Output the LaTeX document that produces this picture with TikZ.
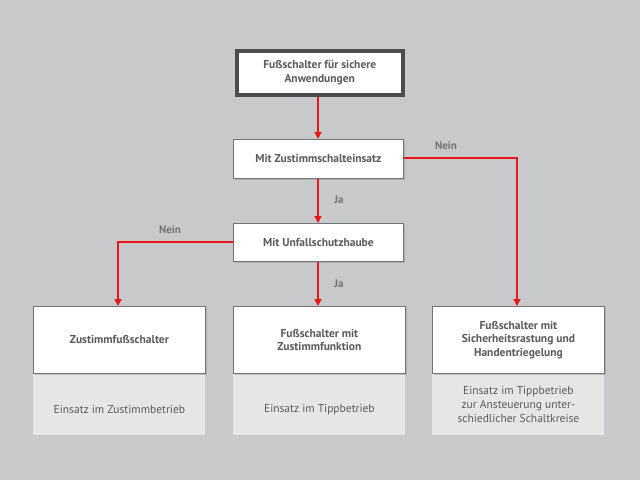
\documentclass[tikz,border=0pt]{standalone}
\usepackage{fontspec}
\setmainfont{PT Sans}
\usetikzlibrary{shadows,arrows.meta}
\definecolor{bg}{HTML}{C8C9CB}
\definecolor{txt}{HTML}{5A5A5C}
\definecolor{lowbg}{HTML}{E6E6E7}
\definecolor{rl}{HTML}{E8161B}
\begin{document}
\begin{tikzpicture}[x=1pt,y=-1pt,
  box/.style={draw=black!55,line width=0.8pt,fill=white,drop shadow={shadow xshift=1.5pt,shadow yshift=-2pt,opacity=0.35},align=center,text=txt,font=\fontsize{11.5}{13.5}\selectfont\bfseries,anchor=north west,inner sep=0pt},
  low/.style={fill=lowbg,align=center,text=txt,font=\fontsize{11.5}{14}\selectfont,anchor=north west,inner sep=0pt},
  arr/.style={draw=rl,line width=1.4pt,-{Triangle[length=7pt,width=7pt]}},
  lab/.style={text=txt!85,font=\fontsize{11}{12}\selectfont\bfseries}]
\fill[bg] (0,0) rectangle (640,480);
\useasboundingbox (0,0) rectangle (640,480);
\node[box,draw=black!70,line width=3.5pt,minimum width=166pt,minimum height=44pt] (t) at (235,49) {Fußschalter für sichere\\Anwendungen};
\node[box,minimum width=170pt,minimum height=39pt] (z) at (233,139) {Mit Zustimmschalteinsatz};
\node[box,minimum width=170pt,minimum height=38pt] (u) at (233,223) {Mit Unfallschutzhaube};
\node[low,minimum width=172pt,minimum height=129pt] (l1) at (33,306) {};
\node[low,minimum width=172pt,minimum height=129pt] (l2) at (233,306) {};
\node[low,minimum width=172pt,minimum height=129pt] (l3) at (432,306) {};
\node[box,minimum width=172pt,minimum height=67pt] (a) at (33,306) {Zustimmfußschalter};
\node[box,minimum width=172pt,minimum height=67pt] (b) at (233,306) {Fußschalter mit\\Zustimmfunktion};
\node[box,minimum width=172pt,minimum height=67pt] (c) at (432,306) {Fußschalter mit\\Sicherheitsrastung und\\Handentriegelung};
\node[low,anchor=center] (ta) at ([yshift=-36pt]a.south) {Einsatz im Zustimmbetrieb};
\node[low,anchor=center] (tb) at ([yshift=-36pt]b.south) {Einsatz im Tippbetrieb};
\node[low,anchor=center] (tc) at ([yshift=-31pt]c.south) {Einsatz im Tippbetrieb\\zur Ansteuerung unter-\\schiedlicher Schaltkreise};
\draw[arr] (t.south -| 318,0) -- (z.north -| 318,0);
\draw[arr] (z.south -| 318,0) -- (u.north -| 318,0);
\draw[arr] (u.south -| 318,0) -- (b.north -| 318,0);
\coordinate (r) at (517,158);
\coordinate (l) at (118,242);
\draw[arr] (z.east |- r) -- (r) -- (c.north -| r);
\draw[arr] (u.west |- l) -- (l) -- (a.north -| l);
\node[lab] (n1) at (446,146) {Nein};
\node[lab] (n2) at (170,230) {Nein};
\node[lab] (j1) at (339,200) {Ja};
\node[lab] (j2) at (339,284) {Ja};
\end{tikzpicture}
\end{document}
